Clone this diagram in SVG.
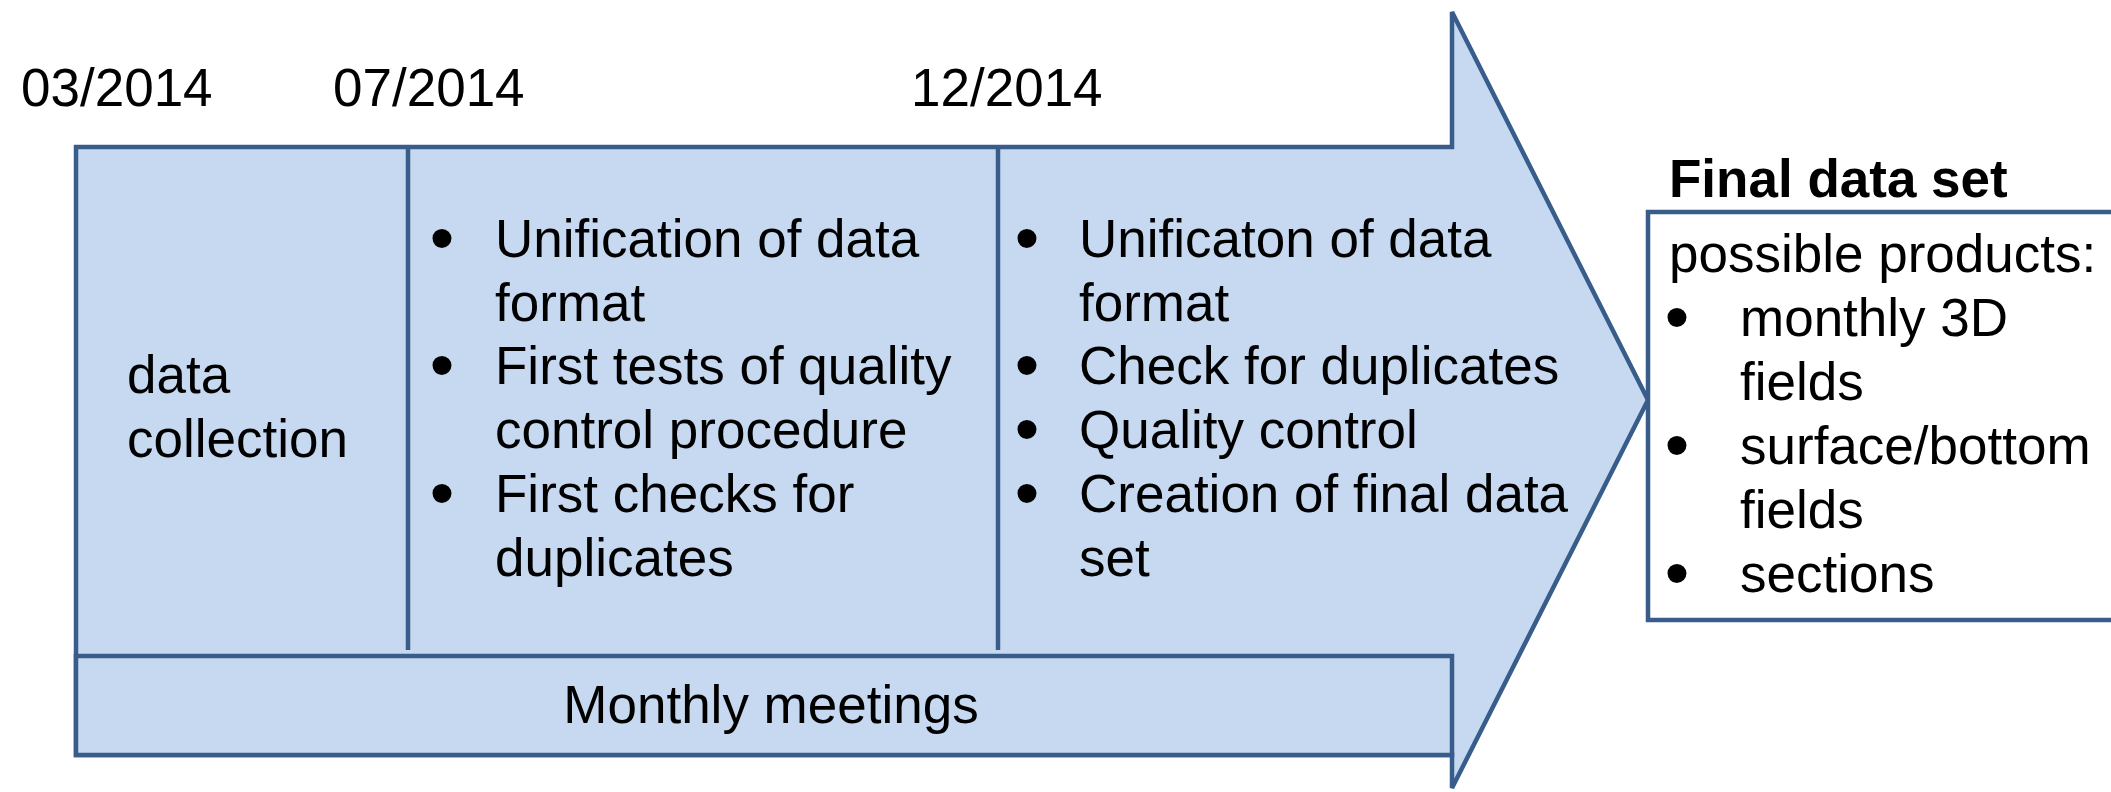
<svg xmlns="http://www.w3.org/2000/svg" width="2111" height="792" viewBox="0 0 2111 792">
<style>
.shape{fill:#C6D9F1;stroke:#385D8A;stroke-width:4.5;stroke-linejoin:miter}
.line{stroke:#385D8A;stroke-width:4.5;fill:none}
.box{fill:#FFFFFF;stroke:#385D8A;stroke-width:4.5}
text{font-family:"Liberation Sans",Arial,sans-serif;font-size:53px;fill:#000}
.b{font-weight:bold}
text.bl{font-size:70px;text-anchor:middle}
</style>
<rect width="2111" height="792" fill="#FFFFFF"/>
<g id="dates">
<text x="21" y="106">03/2014</text>
<text x="333" y="106">07/2014</text>
<text x="911" y="106">12/2014</text>
</g>
<g id="timeline-arrow">
<polygon class="shape" points="76,147 1452,147 1452,12 1648,400 1452,788 1452,755 76,755"/>
</g>
<g id="connectors">
<line class="line" x1="408" y1="149" x2="408" y2="650"/>
<line class="line" x1="998" y1="149" x2="998" y2="650"/>
</g>
<g id="phase1">
<text x="127" y="393">data</text>
<text x="127" y="457">collection</text>
</g>
<g id="phase2">
<text class="bl" x="442" y="262">•</text><text x="495" y="257">Unification of data</text>
<text x="495" y="320.7">format</text>
<text class="bl" x="442" y="389.4">•</text><text x="495" y="384.4">First tests of quality</text>
<text x="495" y="448">control procedure</text>
<text class="bl" x="442" y="516.8">•</text><text x="495" y="511.8">First checks for</text>
<text x="495" y="575.5">duplicates</text>
</g>
<g id="phase3">
<text class="bl" x="1027" y="262">•</text><text x="1079" y="257">Unificaton of data</text>
<text x="1079" y="320.7">format</text>
<text class="bl" x="1027" y="389.4">•</text><text x="1079" y="384.4">Check for duplicates</text>
<text class="bl" x="1027" y="453">•</text><text x="1079" y="448">Quality control</text>
<text class="bl" x="1027" y="516.8">•</text><text x="1079" y="511.8">Creation of final data</text>
<text x="1079" y="575.5">set</text>
</g>
<g id="monthly-meetings">
<rect class="shape" x="76" y="656" width="1376" height="99"/>
<text x="771" y="723" text-anchor="middle">Monthly meetings</text>
</g>
<g id="final-data-set">
<text class="b" x="1669" y="197">Final data set</text>
<rect class="box" x="1648" y="212" width="480" height="408"/>
<text x="1669" y="272">possible products:</text>
<text class="bl" x="1677" y="341">•</text><text x="1740" y="336">monthly 3D</text>
<text x="1740" y="400">fields</text>
<text class="bl" x="1677" y="469">•</text><text x="1740" y="464">surface/bottom</text>
<text x="1740" y="528">fields</text>
<text class="bl" x="1677" y="597">•</text><text x="1740" y="592">sections</text>
</g>
</svg>
